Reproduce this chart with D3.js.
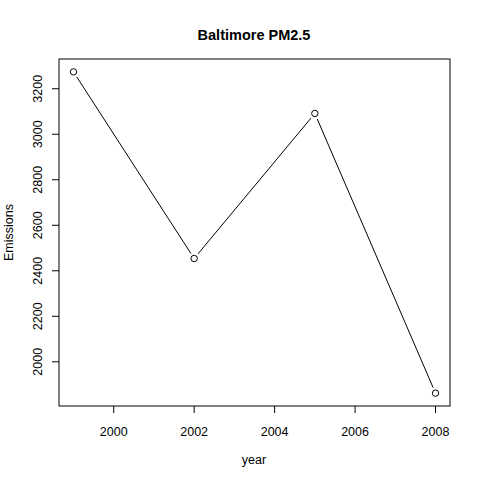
<!DOCTYPE html><html><head><script src="https://cdn.jsdelivr.net/npm/d3@7"></script>
<style>body{margin:0;background:#fff}text{font-family:"Liberation Sans",Arial,sans-serif;fill:#000}</style></head><body>
<svg id="c" width="480" height="480"></svg>
<script>
const years=[1999,2002,2005,2008];
const emissions=[3274.18,2453.92,3091.35,1862.28];
const xTicks=[2000,2002,2004,2006,2008];
const yTicks=[2000,2200,2400,2600,2800,3000,3200];
const svg=d3.select("#c");
const L=59,R=450,T=59,B=406;
const x=d3.scaleLinear().domain([1998.64,2008.36]).range([L,R]);
const y=d3.scaleLinear().domain([1805.8,3330.7]).range([B,T]);
svg.append("rect").attr("x",L).attr("y",T).attr("width",R-L).attr("height",B-T).attr("fill","none").attr("stroke","#000");
const gx=svg.append("g");
xTicks.forEach(t=>{gx.append("line").attr("x1",x(t)).attr("x2",x(t)).attr("y1",B).attr("y2",B+7).attr("stroke","#000");
gx.append("text").attr("x",x(t)).attr("y",B+30).attr("text-anchor","middle").attr("font-size",12.5).text(t);});
const gy=svg.append("g");
yTicks.forEach(t=>{gy.append("line").attr("x1",L-7).attr("x2",L).attr("y1",y(t)).attr("y2",y(t)).attr("stroke","#000");
gy.append("text").attr("transform",`translate(${L-17},${y(t)}) rotate(-90)`).attr("text-anchor","middle").attr("font-size",12.5).text(t);});
const pts=years.map((d,i)=>[x(d),y(emissions[i])]);
for(let i=0;i<pts.length-1;i++){const [a,b]=[pts[i],pts[i+1]];const dx=b[0]-a[0],dy=b[1]-a[1],len=Math.hypot(dx,dy),g=6;
svg.append("line").attr("x1",a[0]+dx/len*g).attr("y1",a[1]+dy/len*g).attr("x2",b[0]-dx/len*g).attr("y2",b[1]-dy/len*g).attr("stroke","#000");}
svg.selectAll("circle").data(pts).join("circle").attr("cx",d=>d[0]).attr("cy",d=>d[1]).attr("r",3.2).attr("fill","none").attr("stroke","#000");
svg.append("text").attr("x",254).attr("y",40).attr("text-anchor","middle").attr("font-size",14.5).attr("font-weight","bold").text("Baltimore PM2.5");
svg.append("text").attr("x",254).attr("y",464).attr("text-anchor","middle").attr("font-size",12.5).text("year");
svg.append("text").attr("transform",`translate(13,${(T+B)/2}) rotate(-90)`).attr("text-anchor","middle").attr("font-size",12.5).text("Emissions");
</script></body></html>
